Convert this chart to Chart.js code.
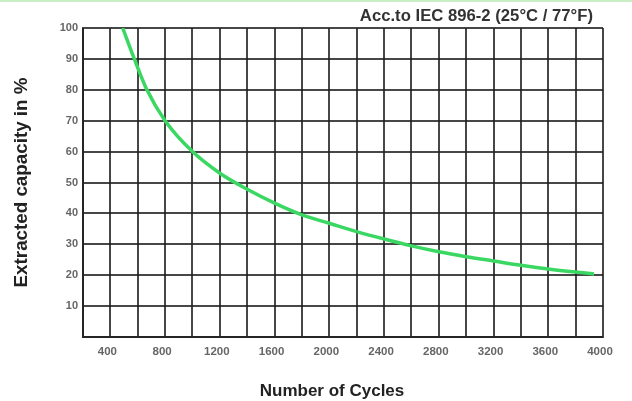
<!DOCTYPE html>
<html>
<head>
<meta charset="utf-8">
<script src="https://cdn.jsdelivr.net/npm/chart.js@4/dist/chart.umd.min.js"></script>
<style>
  html, body { margin: 0; padding: 0; background: #fff; }
  #wrap { position: relative; width: 632px; height: 401px; }
  #topline { position: absolute; left: 0; top: 0; width: 632px; height: 2px; background: #c9efc4; }
</style>
</head>
<body>
<div id="wrap">
  <canvas id="cycleChart" width="632" height="401"></canvas>
  <div id="topline"></div>
</div>
<script>
// values
const cycles = [490, 575, 667, 800, 1000, 1200, 1400, 1600, 1800, 2000, 2200, 2400, 2600, 2800, 3000, 3200, 3400, 3600, 3800, 3935];
const capacity = [100, 90, 80, 70, 60, 53, 47.8, 43.3, 39.5, 36.8, 34.1, 31.7, 29.5, 27.6, 26.0, 24.6, 23.2, 22.0, 21.0, 20.4];
const xLabelEvery = 400;
const headerText = "Acc.to IEC 896-2 (25°C / 77°F)";
const xTitleText = "Number of Cycles";
const yTitleText = "Extracted capacity in %";

const fontFamily = "'Liberation Sans', Arial, sans-serif";
const gridColor = "rgba(30, 30, 30, 0.82)";

// header text and the x title sit off-centre in the original, so draw them here
const textPlugin = {
  id: "textPlugin",
  afterDraw(chart) {
    const ctx = chart.ctx;
    ctx.save();
    ctx.fillStyle = "#333";
    ctx.textBaseline = "middle";
    ctx.font = `bold 16.7px ${fontFamily}`;
    ctx.textAlign = "right";
    ctx.fillText(headerText, 593, 16);
    ctx.fillStyle = "#222";
    ctx.font = `bold 17px ${fontFamily}`;
    ctx.textAlign = "center";
    ctx.fillText(xTitleText, 332, 391);
    ctx.restore();
  }
};

new Chart(document.getElementById("cycleChart"), {
  type: "line",
  data: {
    datasets: [{
      data: cycles.map((c, i) => ({ x: c, y: capacity[i] })),
      borderColor: "#3ad862",
      borderWidth: 3.5,
      pointRadius: 0,
      cubicInterpolationMode: "monotone",
      fill: false
    }]
  },
  options: {
    responsive: false,
    animation: false,
    layout: { padding: { top: 28, right: 29, left: 0, bottom: 0 } },
    plugins: { legend: { display: false }, tooltip: { enabled: false } },
    scales: {
      x: {
        type: "linear",
        min: 200,
        max: 4000,
        afterFit: (s) => { s.height = 64; },
        grid: { color: gridColor, lineWidth: 2, drawTicks: false },
        border: { color: gridColor, width: 2 },
        ticks: {
          stepSize: 200,
          autoSkip: false,
          maxRotation: 0,
          padding: 8,
          labelOffset: -3,
          color: "#666",
          font: { family: fontFamily, size: 11.5, weight: "bold" },
          callback: (v) => (v % xLabelEvery === 0 ? v : "")
        }
      },
      y: {
        min: 0,
        max: 100,
        afterFit: (s) => { s.width = 83; },
        grid: { color: gridColor, lineWidth: 2, drawTicks: false },
        border: { color: gridColor, width: 2 },
        ticks: {
          stepSize: 10,
          padding: 5,
          color: "#666",
          font: { family: fontFamily, size: 11, weight: "bold" },
          callback: (v) => (v === 0 ? "" : v)
        },
        title: {
          display: true,
          text: yTitleText,
          color: "#222",
          padding: { top: 11, bottom: 0 },
          font: { family: fontFamily, size: 18.8, weight: "bold" }
        }
      }
    }
  },
  plugins: [textPlugin]
});
</script>
</body>
</html>
